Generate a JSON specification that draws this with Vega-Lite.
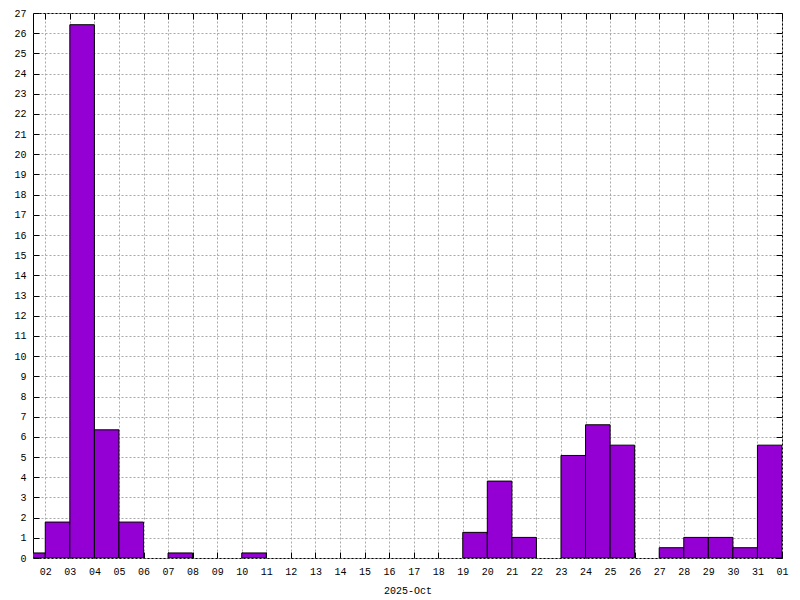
{
  "$schema": "https://vega.github.io/schema/vega-lite/v6.json",
  "width": 749,
  "height": 545,
  "autosize": {"type": "none"},
  "padding": {"left": 33, "top": 13, "right": 18, "bottom": 42},
  "background": "white",
  "config": {
    "view": {"stroke": "black", "strokeWidth": 1},
    "font": "Liberation Mono",
    "axis": {
      "domain": false,
      "labelFont": "Liberation Mono",
      "labelFontSize": 10,
      "labelColor": "black",
      "titleFont": "Liberation Mono",
      "titleFontSize": 10,
      "titleFontWeight": "normal",
      "titleColor": "black",
      "tickColor": "black",
      "tickWidth": 1
    }
  },
  "data": {
    "values": [
      {"start": "2025-10-01T00:00:00Z", "end": "2025-10-02T00:00:00Z", "rain": 0.25},
      {"start": "2025-10-02T00:00:00Z", "end": "2025-10-03T00:00:00Z", "rain": 1.78},
      {"start": "2025-10-03T00:00:00Z", "end": "2025-10-04T00:00:00Z", "rain": 26.42},
      {"start": "2025-10-04T00:00:00Z", "end": "2025-10-05T00:00:00Z", "rain": 6.35},
      {"start": "2025-10-05T00:00:00Z", "end": "2025-10-06T00:00:00Z", "rain": 1.78},
      {"start": "2025-10-07T00:00:00Z", "end": "2025-10-08T00:00:00Z", "rain": 0.25},
      {"start": "2025-10-10T00:00:00Z", "end": "2025-10-11T00:00:00Z", "rain": 0.25},
      {"start": "2025-10-19T00:00:00Z", "end": "2025-10-20T00:00:00Z", "rain": 1.27},
      {"start": "2025-10-20T00:00:00Z", "end": "2025-10-21T00:00:00Z", "rain": 3.81},
      {"start": "2025-10-21T00:00:00Z", "end": "2025-10-22T00:00:00Z", "rain": 1.02},
      {"start": "2025-10-23T00:00:00Z", "end": "2025-10-24T00:00:00Z", "rain": 5.08},
      {"start": "2025-10-24T00:00:00Z", "end": "2025-10-25T00:00:00Z", "rain": 6.6},
      {"start": "2025-10-25T00:00:00Z", "end": "2025-10-26T00:00:00Z", "rain": 5.59},
      {"start": "2025-10-27T00:00:00Z", "end": "2025-10-28T00:00:00Z", "rain": 0.51},
      {"start": "2025-10-28T00:00:00Z", "end": "2025-10-29T00:00:00Z", "rain": 1.02},
      {"start": "2025-10-29T00:00:00Z", "end": "2025-10-30T00:00:00Z", "rain": 1.02},
      {"start": "2025-10-30T00:00:00Z", "end": "2025-10-31T00:00:00Z", "rain": 0.51},
      {"start": "2025-10-31T00:00:00Z", "end": "2025-11-01T00:00:00Z", "rain": 5.59}
    ]
  },
  "layer": [
    {
      "mark": {"type": "bar", "color": "#9400d3", "stroke": "black", "strokeWidth": 1, "clip": true},
      "encoding": {
        "x": {
          "field": "start",
          "type": "temporal",
          "scale": {
            "type": "utc",
            "nice": false,
            "domain": [
              {"year": 2025, "month": 10, "date": 1, "hours": 12, "utc": true},
              {"year": 2025, "month": 11, "date": 1, "hours": 0, "utc": true}
            ]
          },
          "axis": {
            "orient": "bottom",
            "title": "2025-Oct",
            "titlePadding": 9,
            "labelExpr": "utcFormat(datum.value, '%d')",
            "tickCount": {"interval": "day", "step": 1},
            "tickSize": -6,
            "labelPadding": 14,
            "labelFlush": false,
            "labelOverlap": false,
            "grid": true,
            "gridColor": "#a8a8a8",
            "gridDash": [2, 2],
            "gridWidth": 1
          }
        },
        "x2": {"field": "end"},
        "y": {
          "field": "rain",
          "type": "quantitative",
          "scale": {"domain": [0, 27], "nice": false, "zero": true},
          "axis": {
            "orient": "left",
            "title": null,
            "values": [0,1,2,3,4,5,6,7,8,9,10,11,12,13,14,15,16,17,18,19,20,21,22,23,24,25,26,27],
            "tickSize": -6,
            "labelPadding": 13,
            "labelFlush": false,
            "labelOverlap": false,
            "grid": true,
            "gridColor": "#a8a8a8",
            "gridDash": [2, 2],
            "gridWidth": 1
          }
        },
        "y2": {"datum": 0}
      }
    },
    {
      "mark": {"type": "bar", "opacity": 0, "clip": true},
      "encoding": {
        "x": {
          "field": "start",
          "type": "temporal",
          "scale": {
            "type": "utc",
            "nice": false,
            "domain": [
              {"year": 2025, "month": 10, "date": 1, "hours": 12, "utc": true},
              {"year": 2025, "month": 11, "date": 1, "hours": 0, "utc": true}
            ]
          },
          "axis": {
            "orient": "top",
            "title": null,
            "labels": false,
            "tickCount": {"interval": "day", "step": 1},
            "tickSize": -6,
            "grid": false
          }
        },
        "x2": {"field": "end"},
        "y": {
          "field": "rain",
          "type": "quantitative",
          "scale": {"domain": [0, 27], "nice": false, "zero": true},
          "axis": {
            "orient": "right",
            "title": null,
            "labels": false,
            "values": [0,1,2,3,4,5,6,7,8,9,10,11,12,13,14,15,16,17,18,19,20,21,22,23,24,25,26,27],
            "tickSize": -6,
            "grid": false
          }
        },
        "y2": {"datum": 0}
      }
    }
  ],
  "resolve": {"scale": {"x": "independent", "y": "independent"}}
}
